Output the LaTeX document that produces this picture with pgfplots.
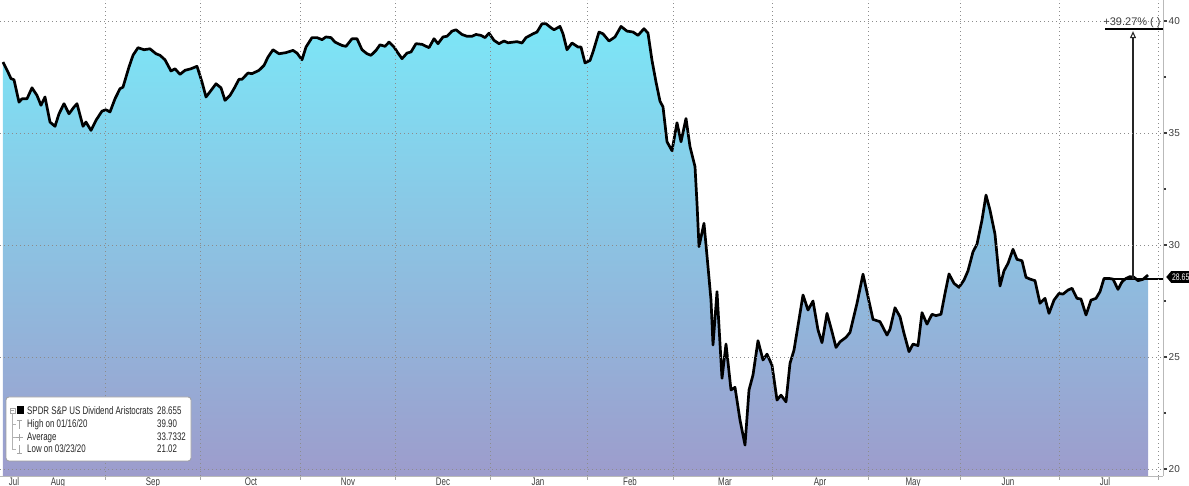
\documentclass[border=0pt]{standalone}
\usepackage{fontspec}
\setmainfont{Liberation Sans}
\newfontfamily\narrowfont[FakeStretch=0.72]{Liberation Sans}
\usepackage{pgfplots}
\usepackage{pgfplotstable}
\pgfplotsset{compat=1.18}
\usetikzlibrary{shapes.symbols,arrows.meta}

\definecolor{fillTop}{RGB}{124,230,247}
\definecolor{fillBot}{RGB}{157,156,204}
\definecolor{gridgray}{RGB}{140,140,140}
\definecolor{labgray}{RGB}{60,60,60}

% x = horizontal position (pixel of the reference), y = price
\pgfplotstableread{
x y
3 38.17
8 37.72
11 37.43
14 37.38
19 36.38
22 36.53
27 36.53
32 37.02
37 36.68
41 36.24
45 36.61
50 35.49
55 35.30
59 35.86
64 36.31
69 35.86
74 36.16
77 36.31
83 35.30
86 35.49
91 35.12
96 35.57
102 35.98
106 36.04
110 35.94
115 36.53
120 36.98
123 37.05
129 37.95
133 38.47
138 38.81
144 38.72
150 38.76
156 38.54
160 38.47
165 38.27
171 37.77
175 37.87
180 37.62
185 37.80
191 37.87
197 37.98
202 37.28
206 36.61
211 36.90
216 37.20
221 37.02
225 36.46
230 36.68
234 36.98
239 37.40
242 37.40
248 37.68
252 37.65
259 37.80
264 38.02
268 38.39
273 38.72
279 38.54
286 38.59
293 38.69
297 38.57
302 38.27
306 38.84
312 39.26
317 39.26
322 39.17
326 39.29
331 39.26
335 39.06
342 38.91
346 38.87
352 39.21
357 39.21
362 38.72
367 38.54
371 38.47
376 38.69
380 38.94
385 38.87
389 39.06
394 38.84
398 38.57
402 38.32
407 38.57
411 38.62
416 38.99
422 38.96
429 38.81
434 39.21
438 38.99
443 39.29
447 39.32
452 39.55
456 39.61
462 39.40
467 39.32
472 39.32
476 39.40
481 39.36
485 39.26
489 39.46
494 39.14
499 38.99
504 39.11
508 39.03
517 39.08
522 39.02
526 39.26
533 39.43
537 39.51
542 39.88
546 39.88
551 39.70
554 39.61
560 39.76
563 39.43
567 38.72
572 39.02
578 38.84
581 38.84
585 38.13
590 38.24
593 38.62
599 39.51
603 39.43
609 39.11
615 39.29
621 39.76
627 39.55
633 39.51
638 39.36
644 39.66
648 39.46
652 38.24
656 37.28
660 36.42
663 36.17
667 34.61
672 34.21
677 35.46
681 34.61
686 35.65
690 34.39
695 33.50
697 31.86
699 29.93
704 30.97
708 29.03
711 27.54
713 25.54
717 27.92
722 24.05
726 25.58
731 23.53
735 23.65
740 22.19
745 21.07
749 23.53
753 24.20
758 25.73
763 24.87
767 25.13
772 24.64
777 23.08
781 23.30
786 23.00
790 24.72
794 25.31
803 27.77
808 27.10
813 27.50
818 26.21
822 25.64
827 26.95
832 26.13
836 25.43
840 25.68
846 25.88
850 26.10
857 27.40
863 28.70
868 27.69
873 26.68
880 26.58
887 25.98
890 26.24
895 27.20
900 26.80
904 26.06
909 25.24
913 25.58
918 25.51
922 26.98
927 26.47
932 26.91
936 26.85
941 26.91
945 27.84
949 28.71
954 28.29
959 28.11
964 28.44
968 28.85
973 29.70
977 30.04
982 31.12
986 32.23
990 31.56
995 30.48
1000 28.17
1004 28.85
1008 29.18
1013 29.81
1017 29.36
1022 29.30
1026 28.56
1030 28.48
1035 28.41
1040 27.40
1045 27.62
1049 26.95
1054 27.54
1059 27.84
1063 27.81
1068 27.99
1072 28.07
1077 27.62
1081 27.59
1086 26.88
1091 27.54
1096 27.62
1100 27.92
1104 28.51
1109 28.51
1113 28.48
1118 28.02
1122 28.36
1126 28.51
1130 28.59
1134 28.56
1138 28.41
1143 28.47
1148 28.66
}\series

\begin{document}
\begin{tikzpicture}
\begin{axis}[
    at={(0pt,0pt)}, anchor=south west,
    width=1163pt, height=476pt, scale only axis,
    xmin=0, xmax=1163, ymin=19.69, ymax=40.94,
    clip=false, axis on top,
    axis x line*=bottom, axis y line*=right,
    axis line style={gray!55, line width=0.8pt},
    tick align=outside,
    xtick={105,200,300,395,490,587,673,772,868,960,1059,1158},
    xticklabels={},
    xmajorgrids,
    xtick style={gray!70, line width=0.6pt},
    major tick length=4pt, minor tick length=3pt,
    extra x ticks={14,58,153,251,348,443,538,630,725,820,913,1008,1105},
    extra x tick labels={Jul,Aug,Sep,Oct,Nov,Dec,Jan,Feb,Mar,Apr,May,Jun,Jul},
    extra x tick style={grid=none, major tick length=0pt,
        tick label style={font=\narrowfont\fontsize{11}{12}\selectfont, text=labgray, inner sep=1.5pt}},
    ytick={20,25,30,35,40},
    minor ytick={22.5,27.5,32.5,37.5},
    ymajorgrids,
    ytick style={labgray, line width=1.2pt},
    grid style={gridgray, line width=0.7pt, dash pattern=on 1pt off 3pt},
    yticklabel style={font=\fontsize{10}{12}\selectfont, text=labgray, inner sep=1.5pt},
    /pgf/number format/assume math mode=true,
]
\addplot[draw=none, top color=fillTop, bottom color=fillBot]
    table[x=x, y=y] {\series} -- (axis cs:1148,19.69) -- (axis cs:3,19.69) -- cycle;
\addplot[black, line width=2.7pt, line join=round] table[x=x, y=y] {\series};

% change annotation: last value, high and arrow between them
\addplot[black, line width=2.2pt] coordinates {(1103,28.5) (1163,28.5)};
\addplot[black, line width=2.2pt] coordinates {(1105,39.65) (1163,39.65)};
\addplot[black!85, line width=1.1pt, -{Triangle[open, length=7pt, width=6pt]}]
    coordinates {(1133,28.5) (1133,39.55)};
\end{axis}

\begin{scope}[x=1pt, y=1pt]
% percentage text over the high line
\node[anchor=base, font=\fontsize{11}{12}\selectfont, text=labgray, inner sep=0pt]
    at (1132,450) {+39.27\% ( )};
% last value tag on the right axis
\node[shape=signal, signal to=west, signal pointer angle=100, fill=black, text=white,
      font=\narrowfont\fontsize{9.5}{10}\selectfont, inner xsep=1pt, inner ysep=2.5pt, anchor=west]
    at (1166,199) {28.65};

% legend box
\draw[gray!75, line width=0.8pt, fill=white, rounded corners=3pt] (6,15) rectangle (191,79);
\draw[gray!70, line width=0.6pt] (10,63) rectangle (15,68);
\draw[gray!70, line width=0.6pt] (11,65.5) -- (14,65.5);
\fill[black] (16.5,62) rectangle (24,69.5);
\draw[gray!60, line width=0.6pt] (12.5,63) -- (12.5,26.5) -- (16,26.5)
    (12.5,51.5) -- (16,51.5) (12.5,38.5) -- (16,38.5);
\draw[gray!70, line width=0.7pt] (17,56) -- (22,56) (19.5,56) -- (19.5,47);
\draw[gray!70, line width=0.7pt] (16,38.5) -- (23,38.5) (19.5,35) -- (19.5,42);
\draw[gray!70, line width=0.7pt] (17,23) -- (22,23) (19.5,23) -- (19.5,31);
\begin{scope}[every node/.style={anchor=base west, inner sep=0pt,
      font=\narrowfont\fontsize{11}{12}\selectfont, text=black!85}]
\node at (27,61) {SPDR S\&P US Dividend Aristocrats};
\node at (157,61) {28.655};
\node at (27,48) {High on 01/16/20};
\node at (157,48) {39.90};
\node at (27,35) {Average};
\node at (157,35) {33.7332};
\node at (27,23) {Low on 03/23/20};
\node at (157,23) {21.02};
\end{scope}
\end{scope}

\pgfresetboundingbox
\useasboundingbox (0pt,-10pt) rectangle (1189pt,476pt);
\end{tikzpicture}
\end{document}
